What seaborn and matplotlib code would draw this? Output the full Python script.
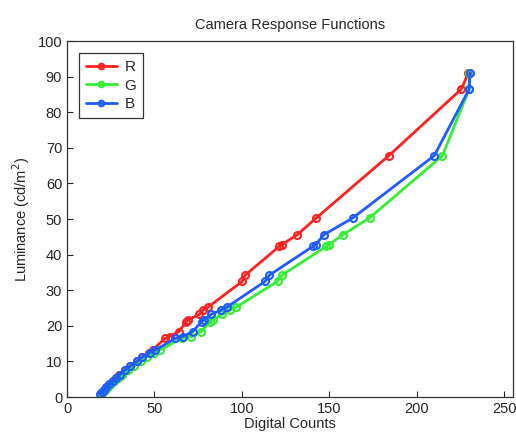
import matplotlib
matplotlib.use("Agg")
import matplotlib.pyplot as plt
import seaborn as sns
import pandas as pd

# Shared luminance levels (cd/m^2)
lum = [0.9, 1.5, 2.0, 2.8, 3.6, 4.4, 5.3, 6.2, 7.5, 8.6, 10.0, 11.2, 12.5, 13.2,
       16.5, 17.0, 18.4, 21.2, 21.7, 23.2, 24.4, 25.2, 32.5, 34.2, 42.3, 42.8,
       45.6, 50.3, 67.8, 86.5, 91.0]

red_counts = [19.5, 20.5, 21.5, 23.0, 24.5, 26.0, 28.0, 29.5, 33.0, 36.0, 40.0,
              43.0, 47.0, 49.0, 56.0, 58.7, 64.0, 68.2, 69.2, 75.7, 77.6, 80.5,
              100.2, 101.8, 121.3, 122.8, 131.7, 142.5, 184.0, 225.5, 229.5]
green_counts = [19.5, 20.5, 21.5, 23.5, 25.0, 27.0, 29.0, 31.5, 35.0, 38.0, 42.0,
                45.5, 50.0, 53.0, 66.0, 71.0, 76.7, 82.0, 83.3, 88.6, 93.0, 96.6,
                120.4, 122.8, 148.2, 149.8, 157.7, 173.0, 214.7, 230.0, 230.0]
blue_counts = [19.0, 20.0, 21.0, 22.5, 24.0, 26.0, 28.0, 30.0, 33.0, 36.0, 40.0,
               43.0, 47.5, 50.5, 62.0, 66.2, 71.9, 77.0, 78.6, 82.3, 88.0, 91.2,
               113.3, 115.6, 140.5, 142.2, 146.9, 163.4, 210.0, 230.0, 230.5]

channels = ["R", "G", "B"]
colors = {"R": "#ff2020", "G": "#33ee33", "B": "#1f5cff"}

frames = []
for name, xs in zip(channels, [red_counts, green_counts, blue_counts]):
    frames.append(pd.DataFrame({"counts": xs, "lum": lum, "ch": name}))
df = pd.concat(frames, ignore_index=True)

sns.set_style("ticks")
plt.rcParams["font.family"] = ["Liberation Sans", "DejaVu Sans"]

fig = plt.figure(figsize=(5.16, 4.37), dpi=100)
ax = fig.add_axes([0.130, 0.0915, 0.864, 0.8145])

for name in channels:
    c = colors[name]
    sns.lineplot(data=df[df["ch"] == name], x="counts", y="lum", ax=ax,
                 color=c, marker="o", markersize=5, markerfacecolor="none",
                 markeredgecolor=c, markeredgewidth=1.5, linewidth=2.0,
                 sort=False, estimator=None, label=name)

ax.set_xlim(0, 255)
ax.set_ylim(0, 100)
ax.set_xticks([0, 50, 100, 150, 200, 250])
ax.set_yticks(range(0, 101, 10))
ax.tick_params(direction="in", length=4, width=0.8, labelsize=10.5,
               top=False, right=False)
for s in ax.spines.values():
    s.set_visible(True)
    s.set_linewidth(0.9)
    s.set_color("#333333")

ax.set_title("Camera Response Functions", fontsize=10.5, pad=9)
ax.set_xlabel("Digital Counts", fontsize=10.5, labelpad=1)
ax.set_ylabel("Luminance (cd/m$^2$)", fontsize=10.5, labelpad=4)

leg = ax.legend(loc="upper left", fontsize=11, frameon=True, fancybox=False,
                edgecolor="black", handlelength=2.0, borderaxespad=0.8,
                labelspacing=0.3, handletextpad=0.5, borderpad=0.45,
                markerscale=0.8)
leg.get_frame().set_linewidth(0.9)

fig.savefig("out.png", dpi=100)
